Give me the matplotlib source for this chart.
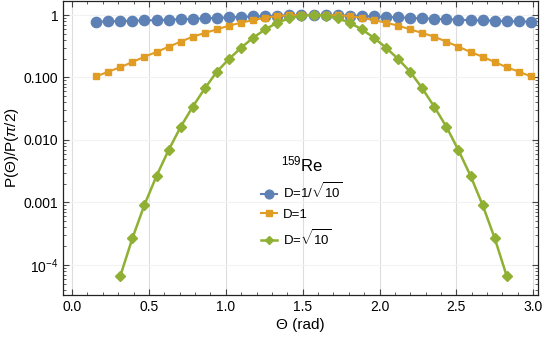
import matplotlib
matplotlib.use("Agg")
import matplotlib.pyplot as plt
from matplotlib.ticker import FixedLocator, NullFormatter

plt.rcParams['font.family'] = ['Liberation Sans', 'DejaVu Sans']
plt.rcParams['mathtext.fontset'] = 'custom'
plt.rcParams['mathtext.rm'] = 'Liberation Sans'
plt.rcParams['mathtext.it'] = 'Liberation Sans:italic'

theta_blue = [0.157, 0.236, 0.314, 0.393, 0.471, 0.550, 0.628, 0.707, 0.785, 0.864,
              0.942, 1.021, 1.100, 1.178, 1.257, 1.335, 1.414, 1.492, 1.571, 1.649,
              1.728, 1.806, 1.885, 1.963, 2.042, 2.121, 2.199, 2.278, 2.356, 2.435,
              2.513, 2.592, 2.670, 2.749, 2.827, 2.906, 2.985]
theta_green = [0.314, 0.393, 0.471, 0.550, 0.628, 0.707, 0.785, 0.864,
               0.942, 1.021, 1.100, 1.178, 1.257, 1.335, 1.414, 1.492, 1.571, 1.649,
               1.728, 1.806, 1.885, 1.963, 2.042, 2.121, 2.199, 2.278, 2.356, 2.435,
               2.513, 2.592, 2.670, 2.749, 2.827]

p_blue = [0.780, 0.790, 0.800, 0.810, 0.818, 0.828, 0.840, 0.854, 0.868, 0.884,
          0.900, 0.916, 0.932, 0.948, 0.962, 0.975, 0.986, 0.995, 1.000, 0.995,
          0.986, 0.975, 0.962, 0.948, 0.932, 0.916, 0.900, 0.884, 0.868, 0.854,
          0.840, 0.828, 0.818, 0.810, 0.800, 0.790, 0.780]
p_orange = [0.104, 0.124, 0.146, 0.177, 0.215, 0.256, 0.311, 0.374, 0.450, 0.515,
            0.590, 0.675, 0.753, 0.830, 0.905, 0.960, 0.990, 1.000, 1.010, 1.000,
            0.990, 0.960, 0.905, 0.830, 0.753, 0.675, 0.590, 0.515, 0.450, 0.374,
            0.311, 0.256, 0.215, 0.177, 0.146, 0.124, 0.104]
p_green = [6.7e-5, 2.7e-4, 9.2e-4, 2.68e-3, 6.9e-3, 0.0163, 0.0341, 0.0671,
           0.124, 0.198, 0.300, 0.433, 0.590, 0.753, 0.885, 0.975, 1.000, 0.975,
           0.885, 0.753, 0.590, 0.433, 0.300, 0.198, 0.124, 0.0671, 0.0341, 0.0163,
           6.9e-3, 2.68e-3, 9.2e-4, 2.7e-4, 6.7e-5]

labels = [r'D=1/$\sqrt{10}$', 'D=1', r'D=$\sqrt{10}$']
legend_title = r'$^{159}$Re'
xticks = [0.0, 0.5, 1.0, 1.5, 2.0, 2.5, 3.0]
xticklabels = ['0.0', '0.5', '1.0', '1.5', '2.0', '2.5', '3.0']
yticks = [1, 0.1, 0.01, 0.001, 1e-4]
yticklabels = ['1', '0.100', '0.010', '0.001', r'10$^{-4}$']

c_blue = '#5E81B5'
c_orange = '#E19C24'
c_green = '#8FB032'

fig = plt.figure(figsize=(5.45, 3.37), dpi=100)
ax = fig.add_axes([63/545, 1 - 295/337, (538 - 63)/545, (295 - 1)/337])

ax.plot(theta_blue, p_blue, '-o', color=c_blue, lw=1.5, ms=7.4, label=labels[0], zorder=3)
ax.plot(theta_blue, p_orange, '-s', color=c_orange, lw=1.5, ms=4.8, label=labels[1], zorder=4)
ax.plot(theta_green, p_green, '-D', color=c_green, lw=1.8, ms=5.2, label=labels[2], zorder=5)

ax.set_yscale('log')
ax.set_xlim(-0.059, 3.031)
ax.set_ylim(3.31e-5, 1.675)

ax.set_xticks(xticks)
ax.set_xticklabels(xticklabels)
ax.xaxis.set_minor_locator(FixedLocator([i / 10 for i in range(0, 31)]))
ax.set_yticks(yticks)
ax.set_yticklabels(yticklabels)
minors = []
for d in [1e-5, 1e-4, 1e-3, 1e-2, 1e-1, 1]:
    for m in range(2, 10):
        minors.append(d * m)
ax.yaxis.set_minor_locator(FixedLocator(minors))
ax.yaxis.set_minor_formatter(NullFormatter())

ax.tick_params(which='both', direction='in', top=True, right=True, labelsize=10,
               color='#444444')
ax.tick_params(which='major', length=4, width=0.8)
ax.tick_params(which='minor', length=2, width=0.6)

for s in ax.spines.values():
    s.set_color('#222222')
    s.set_linewidth(0.9)

ax.grid(True, which='major', axis='x', color='#dddddd', lw=0.8)
ax.grid(True, which='major', axis='y', color='#f2f2f2', lw=0.8)
ax.set_axisbelow(True)

ax.set_xlabel('Θ (rad)', fontsize=11, labelpad=3)
ax.set_ylabel(r'P(Θ)/P($\pi$/2)', fontsize=11, labelpad=2)

leg = ax.legend(title=legend_title, loc='center', bbox_to_anchor=(0.503, 0.32),
                frameon=False, fontsize=9.5, title_fontsize=12, handlelength=1.2,
                handletextpad=0.4, labelspacing=0.55, markerscale=0.85)

fig.savefig('out.png', dpi=100)
